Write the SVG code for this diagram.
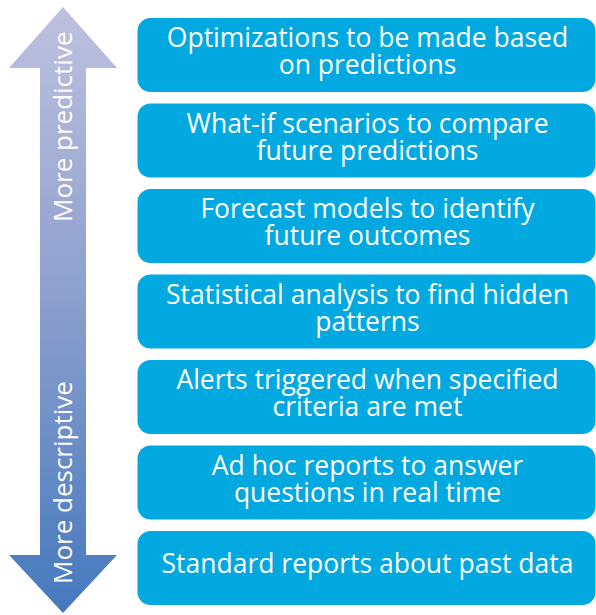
<svg xmlns="http://www.w3.org/2000/svg" width="596" height="615" viewBox="0 0 596 615">
<defs>
<linearGradient id="arrowGrad" x1="0" y1="0" x2="0" y2="1">
<stop offset="0" stop-color="#bec1df"/>
<stop offset="0.5" stop-color="#8a9ecd"/>
<stop offset="1" stop-color="#4479be"/>
</linearGradient>
<style>
.box{fill:#02a8e0;}
.lbl{font-family:"Open Sans","Liberation Sans",sans-serif;font-size:26.5px;fill:#ffffff;text-anchor:middle;}
.side{font-family:"Open Sans","Liberation Sans",sans-serif;font-size:26px;fill:#ffffff;}
</style>
</defs>
<rect width="596" height="615" fill="#ffffff"/>
<g id="connectors">
<path id="scale-arrow" d="M63,7 L117,68 L86,68 L86,555 L117,555 L63,613 L9,555 L40,555 L40,68 L9,68 Z" fill="url(#arrowGrad)"/>
<text class="side" transform="translate(72,222) rotate(-90)">More predictive</text>
<text class="side" transform="translate(72,584) rotate(-90)">More descriptive</text>
</g>
<g id="node1">
<rect class="box" x="137.5" y="18" width="458" height="74" rx="13"/>
<text class="lbl" x="367.5" y="47">Optimizations to be made based</text>
<text class="lbl" x="367.5" y="74">on predictions</text>
</g>
<g id="node2">
<rect class="box" x="137.5" y="103.5" width="458" height="74" rx="13"/>
<text class="lbl" x="367.5" y="132.5">What-if scenarios to compare</text>
<text class="lbl" x="367.5" y="159.5">future predictions</text>
</g>
<g id="node3">
<rect class="box" x="137.5" y="189" width="458" height="74" rx="13"/>
<text class="lbl" x="367.5" y="218">Forecast models to identify</text>
<text class="lbl" x="367.5" y="245">future outcomes</text>
</g>
<g id="node4">
<rect class="box" x="137.5" y="274.5" width="458" height="74" rx="13"/>
<text class="lbl" x="367.5" y="303.5">Statistical analysis to find hidden</text>
<text class="lbl" x="367.5" y="330.5">patterns</text>
</g>
<g id="node5">
<rect class="box" x="137.5" y="360" width="458" height="74" rx="13"/>
<text class="lbl" x="367.5" y="389">Alerts triggered when specified</text>
<text class="lbl" x="367.5" y="416">criteria are met</text>
</g>
<g id="node6">
<rect class="box" x="137.5" y="445.5" width="458" height="74" rx="13"/>
<text class="lbl" x="367.5" y="474.5">Ad hoc reports to answer</text>
<text class="lbl" x="367.5" y="501.5">questions in real time</text>
</g>
<g id="node7">
<rect class="box" x="137.5" y="531" width="458" height="74" rx="13"/>
<text class="lbl" x="367.5" y="573">Standard reports about past data</text>
</g>
</svg>
